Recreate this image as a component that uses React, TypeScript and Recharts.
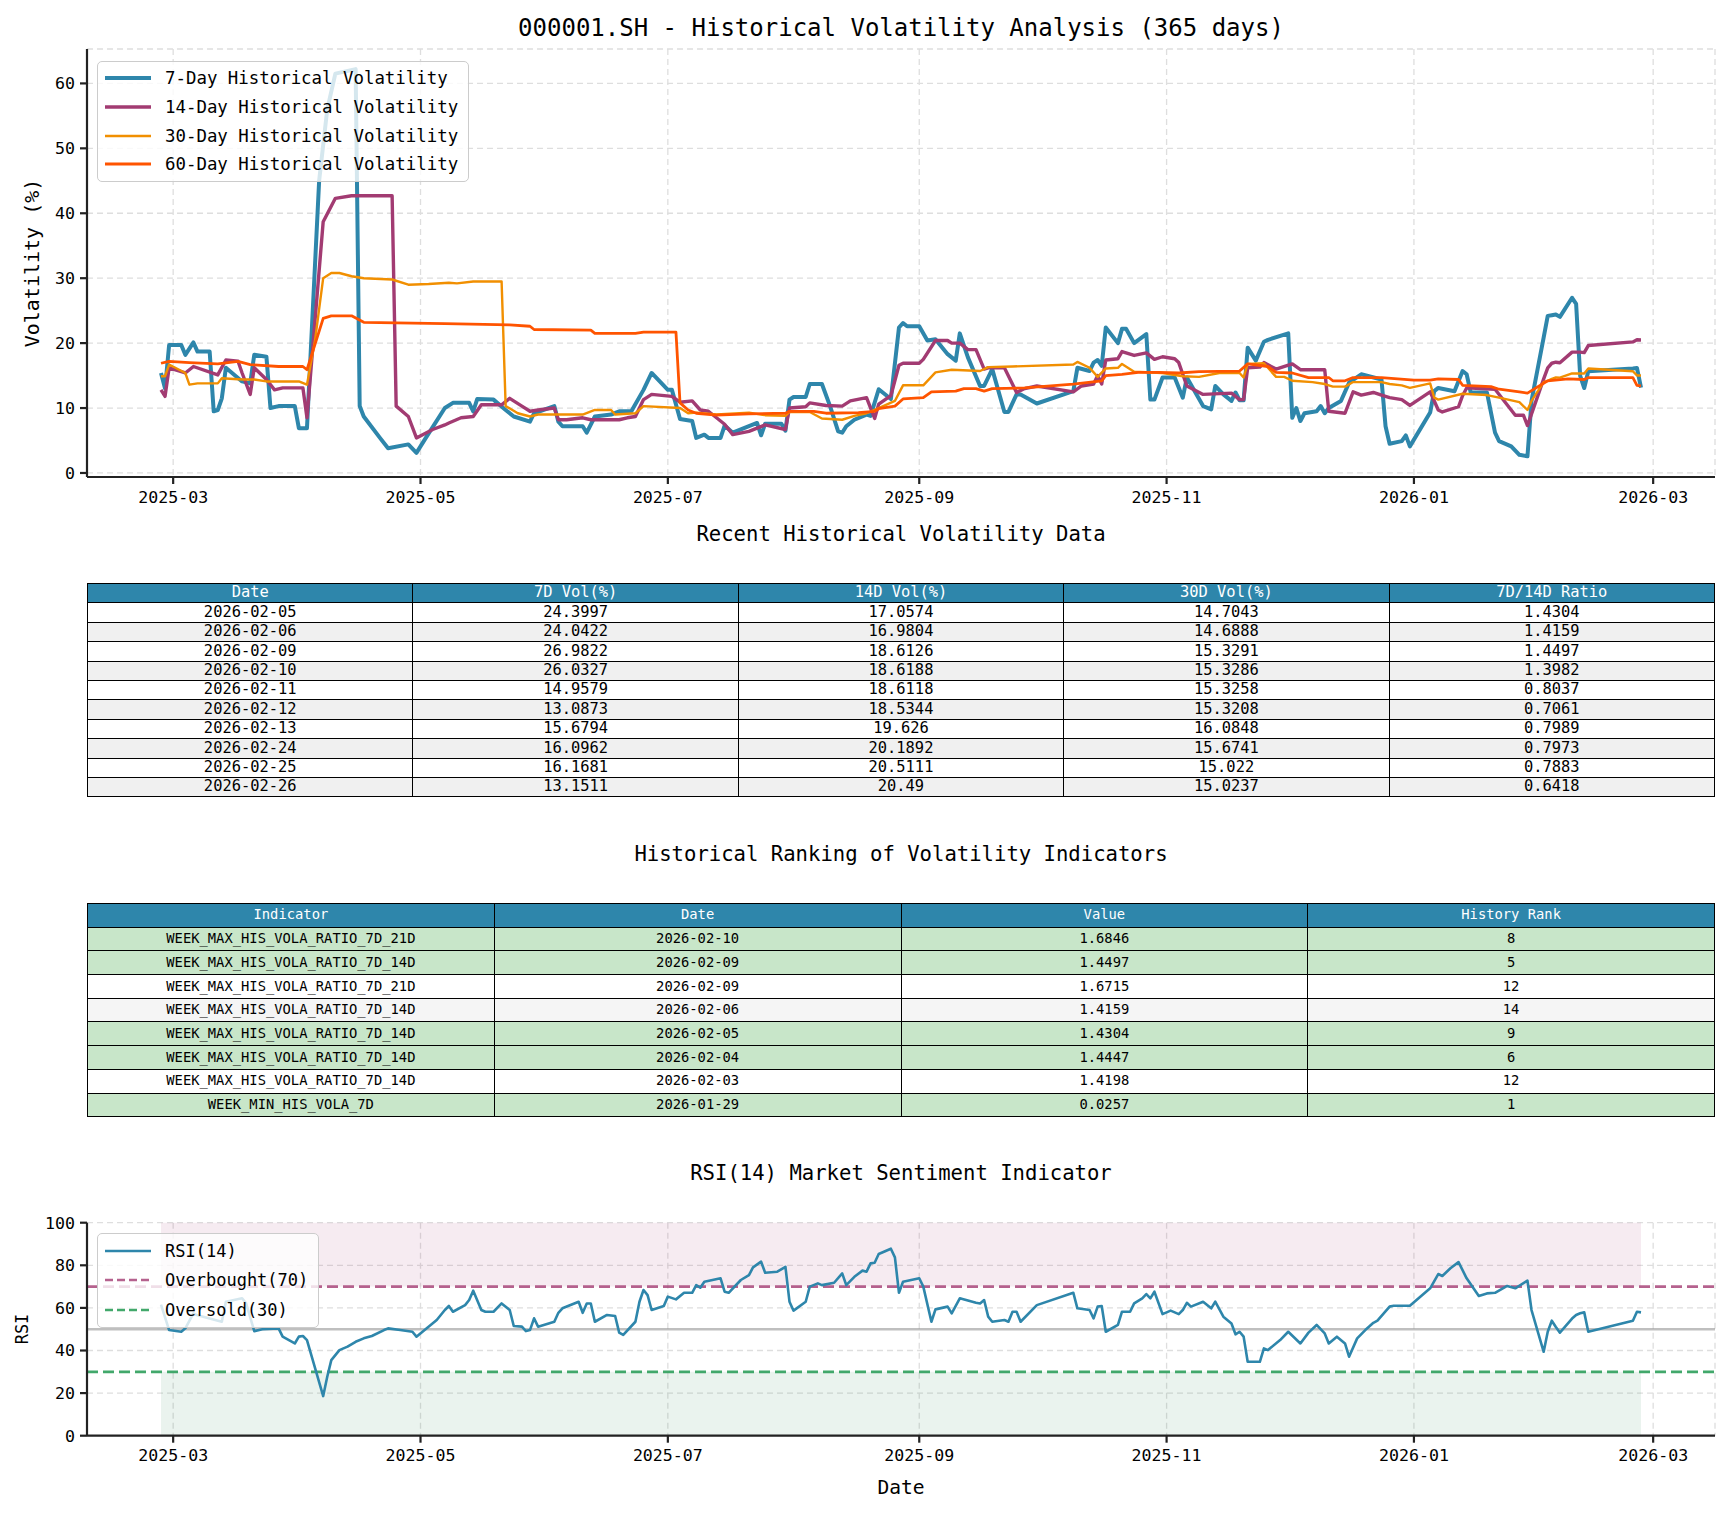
import React from 'react';
import { LineChart, Line, XAxis, YAxis, CartesianGrid, Legend, ReferenceArea, ReferenceLine } from 'recharts';

const FONT = '"DejaVu Sans Mono", "Liberation Mono", monospace';

const firstDay = '2025-02-26';
const lastDay = '2026-02-26';
const monthTicks = ['2025-03-01', '2025-05-01', '2025-07-01', '2025-09-01', '2025-11-01', '2026-01-01', '2026-03-01'];
const volTicks = [0, 10, 20, 30, 40, 50, 60];
const rsiTicks = [0, 20, 40, 60, 80, 100];

// values, trading-day samples
const vol7d: [string, number][] = [
  ['2025-02-26', 15.4], ['2025-02-27', 13.0], ['2025-02-28', 19.7], ['2025-03-03', 19.7], ['2025-03-04', 18.2], ['2025-03-06', 20.1],
  ['2025-03-07', 18.7], ['2025-03-10', 18.7], ['2025-03-11', 9.5], ['2025-03-12', 9.7], ['2025-03-13', 11.5], ['2025-03-14', 16.2],
  ['2025-03-18', 14.1], ['2025-03-20', 13.8], ['2025-03-21', 18.2], ['2025-03-24', 17.9], ['2025-03-25', 10.0], ['2025-03-27', 10.3],
  ['2025-03-31', 10.3], ['2025-04-01', 6.9], ['2025-04-03', 6.9], ['2025-04-06', 45.0], ['2025-04-08', 56.0], ['2025-04-10', 61.5],
  ['2025-04-15', 62.2], ['2025-04-16', 10.3], ['2025-04-17', 8.7], ['2025-04-21', 5.4], ['2025-04-23', 3.8], ['2025-04-28', 4.4],
  ['2025-04-30', 3.1], ['2025-05-02', 5.1], ['2025-05-07', 10.0], ['2025-05-09', 10.8], ['2025-05-13', 10.8], ['2025-05-14', 9.5],
  ['2025-05-15', 11.4], ['2025-05-19', 11.3], ['2025-05-22', 9.7], ['2025-05-24', 8.7], ['2025-05-28', 7.9], ['2025-05-29', 9.2],
  ['2025-06-03', 10.3], ['2025-06-04', 7.9], ['2025-06-05', 7.2], ['2025-06-10', 7.2], ['2025-06-11', 6.2], ['2025-06-13', 8.7],
  ['2025-06-17', 9.0], ['2025-06-19', 9.5], ['2025-06-22', 9.5], ['2025-06-25', 12.8], ['2025-06-27', 15.4], ['2025-07-01', 12.8],
  ['2025-07-02', 12.8], ['2025-07-04', 8.3], ['2025-07-07', 8.0], ['2025-07-08', 5.4], ['2025-07-10', 5.9], ['2025-07-11', 5.4],
  ['2025-07-14', 5.4], ['2025-07-15', 7.3], ['2025-07-17', 6.2], ['2025-07-23', 7.7], ['2025-07-24', 5.8], ['2025-07-25', 7.6],
  ['2025-07-29', 7.6], ['2025-07-30', 6.5], ['2025-07-31', 11.3], ['2025-08-01', 11.7], ['2025-08-04', 11.7], ['2025-08-05', 13.7],
  ['2025-08-08', 13.7], ['2025-08-10', 10.3], ['2025-08-12', 6.4], ['2025-08-13', 6.2], ['2025-08-14', 7.2], ['2025-08-16', 8.2],
  ['2025-08-19', 9.0], ['2025-08-20', 8.8], ['2025-08-22', 12.9], ['2025-08-25', 11.4], ['2025-08-27', 22.4], ['2025-08-28', 23.1],
  ['2025-08-29', 22.6], ['2025-09-01', 22.6], ['2025-09-03', 20.4], ['2025-09-05', 20.6], ['2025-09-08', 18.3], ['2025-09-10', 17.3],
  ['2025-09-11', 21.5], ['2025-09-13', 17.8], ['2025-09-16', 13.4], ['2025-09-17', 13.4], ['2025-09-19', 16.0], ['2025-09-22', 9.4],
  ['2025-09-23', 9.4], ['2025-09-25', 12.1], ['2025-09-26', 12.1], ['2025-09-30', 10.7], ['2025-10-09', 12.6], ['2025-10-10', 16.2],
  ['2025-10-13', 15.7], ['2025-10-14', 17.0], ['2025-10-15', 17.4], ['2025-10-16', 16.5], ['2025-10-17', 22.4], ['2025-10-20', 20.0],
  ['2025-10-21', 22.2], ['2025-10-22', 22.2], ['2025-10-24', 20.0], ['2025-10-27', 21.4], ['2025-10-28', 11.3], ['2025-10-29', 11.3],
  ['2025-10-31', 14.7], ['2025-11-03', 14.7], ['2025-11-05', 11.6], ['2025-11-06', 14.7], ['2025-11-10', 10.3], ['2025-11-12', 9.8],
  ['2025-11-13', 13.4], ['2025-11-15', 12.1], ['2025-11-17', 11.1], ['2025-11-18', 12.4], ['2025-11-19', 11.2], ['2025-11-20', 11.2],
  ['2025-11-21', 19.3], ['2025-11-23', 17.3], ['2025-11-25', 20.2], ['2025-11-26', 20.5], ['2025-12-01', 21.5], ['2025-12-02', 8.5],
  ['2025-12-03', 10.0], ['2025-12-04', 8.0], ['2025-12-05', 9.2], ['2025-12-08', 9.5], ['2025-12-09', 10.3], ['2025-12-10', 9.2],
  ['2025-12-11', 10.0], ['2025-12-14', 11.1], ['2025-12-16', 13.9], ['2025-12-19', 15.2], ['2025-12-24', 14.4], ['2025-12-25', 7.2],
  ['2025-12-26', 4.5], ['2025-12-29', 4.9], ['2025-12-30', 5.8], ['2025-12-31', 4.1], ['2026-01-05', 9.3], ['2026-01-06', 12.6],
  ['2026-01-07', 13.1], ['2026-01-11', 12.6], ['2026-01-13', 15.7], ['2026-01-14', 15.2], ['2026-01-15', 12.4], ['2026-01-19', 12.4],
  ['2026-01-21', 6.2], ['2026-01-22', 4.9], ['2026-01-25', 4.1], ['2026-01-27', 2.8], ['2026-01-29', 2.57], ['2026-01-30', 11.1],
  ['2026-02-02', 20.9], ['2026-02-03', 24.2], ['2026-02-04', 24.3], ['2026-02-05', 24.3997], ['2026-02-06', 24.0422], ['2026-02-09', 26.9822],
  ['2026-02-10', 26.0327], ['2026-02-11', 14.9579], ['2026-02-12', 13.0873], ['2026-02-13', 15.6794], ['2026-02-24', 16.0962],
  ['2026-02-25', 16.1681], ['2026-02-26', 13.1511],
];

const vol14d: [string, number][] = [
  ['2025-02-26', 12.8], ['2025-02-27', 11.8], ['2025-02-28', 16.2], ['2025-03-04', 15.4], ['2025-03-06', 16.4], ['2025-03-12', 15.1],
  ['2025-03-14', 17.4], ['2025-03-17', 17.2], ['2025-03-18', 15.4], ['2025-03-20', 12.1], ['2025-03-21', 16.2], ['2025-03-24', 14.4],
  ['2025-03-26', 12.8], ['2025-03-28', 13.1], ['2025-04-02', 13.1], ['2025-04-03', 8.5], ['2025-04-07', 38.7], ['2025-04-10', 42.3],
  ['2025-04-14', 42.7], ['2025-04-24', 42.7], ['2025-04-25', 10.3], ['2025-04-28', 8.7], ['2025-04-30', 5.4], ['2025-05-04', 6.7],
  ['2025-05-07', 7.4], ['2025-05-08', 7.7], ['2025-05-11', 8.5], ['2025-05-14', 8.7], ['2025-05-16', 10.5], ['2025-05-21', 10.5],
  ['2025-05-23', 11.5], ['2025-05-26', 10.3], ['2025-05-28', 9.5], ['2025-05-30', 9.7], ['2025-06-03', 10.0], ['2025-06-04', 8.2],
  ['2025-06-06', 8.2], ['2025-06-10', 8.5], ['2025-06-12', 8.2], ['2025-06-19', 8.2], ['2025-06-21', 8.5], ['2025-06-23', 8.7],
  ['2025-06-25', 11.3], ['2025-06-27', 12.1], ['2025-07-02', 11.8], ['2025-07-04', 10.9], ['2025-07-07', 11.1], ['2025-07-09', 9.7],
  ['2025-07-11', 9.5], ['2025-07-15', 7.5], ['2025-07-17', 5.9], ['2025-07-21', 6.4], ['2025-07-25', 7.4], ['2025-07-30', 6.7],
  ['2025-07-31', 10.0], ['2025-08-04', 10.2], ['2025-08-05', 10.8], ['2025-08-09', 10.4], ['2025-08-13', 10.3], ['2025-08-15', 11.1],
  ['2025-08-19', 11.6], ['2025-08-21', 8.4], ['2025-08-22', 10.6], ['2025-08-25', 11.9], ['2025-08-27', 16.6], ['2025-08-28', 16.9],
  ['2025-09-01', 16.9], ['2025-09-02', 17.5], ['2025-09-05', 20.4], ['2025-09-08', 20.4], ['2025-09-09', 20.0], ['2025-09-11', 20.0],
  ['2025-09-13', 19.0], ['2025-09-15', 19.0], ['2025-09-17', 16.0], ['2025-09-18', 16.2], ['2025-09-22', 16.2], ['2025-09-25', 12.4],
  ['2025-09-27', 13.0], ['2025-09-30', 13.4], ['2025-10-09', 12.5], ['2025-10-11', 13.4], ['2025-10-14', 13.7], ['2025-10-15', 15.0],
  ['2025-10-16', 13.7], ['2025-10-17', 17.4], ['2025-10-20', 17.6], ['2025-10-21', 18.7], ['2025-10-24', 18.1], ['2025-10-27', 18.5],
  ['2025-10-29', 17.5], ['2025-10-31', 17.9], ['2025-11-03', 17.6], ['2025-11-04', 17.0], ['2025-11-06', 13.4], ['2025-11-10', 12.1],
  ['2025-11-17', 12.3], ['2025-11-19', 11.3], ['2025-11-20', 11.3], ['2025-11-21', 16.2], ['2025-11-24', 16.3], ['2025-11-25', 17.0],
  ['2025-11-28', 16.0], ['2025-12-02', 16.8], ['2025-12-04', 15.9], ['2025-12-10', 15.9], ['2025-12-11', 9.5], ['2025-12-15', 9.2],
  ['2025-12-17', 12.5], ['2025-12-19', 12.0], ['2025-12-22', 12.4], ['2025-12-24', 12.0], ['2025-12-26', 11.6], ['2025-12-29', 11.3],
  ['2025-12-31', 10.4], ['2026-01-05', 12.5], ['2026-01-07', 9.7], ['2026-01-08', 9.4], ['2026-01-12', 10.2], ['2026-01-13', 11.9],
  ['2026-01-14', 13.1], ['2026-01-21', 12.9], ['2026-01-26', 8.9], ['2026-01-28', 8.9], ['2026-01-29', 7.3], ['2026-02-02', 14.5],
  ['2026-02-03', 16.2], ['2026-02-04', 16.9], ['2026-02-05', 17.0574], ['2026-02-06', 16.9804], ['2026-02-09', 18.6126],
  ['2026-02-10', 18.6188], ['2026-02-11', 18.6118], ['2026-02-12', 18.5344], ['2026-02-13', 19.626], ['2026-02-24', 20.1892],
  ['2026-02-25', 20.5111], ['2026-02-26', 20.49],
];

const vol30d: [string, number][] = [
  ['2025-02-26', 14.9], ['2025-02-27', 14.9], ['2025-02-28', 16.7], ['2025-03-04', 15.4], ['2025-03-05', 13.6], ['2025-03-07', 13.8],
  ['2025-03-12', 13.8], ['2025-03-13', 14.6], ['2025-03-18', 14.4], ['2025-03-21', 14.4], ['2025-03-24', 14.1], ['2025-04-01', 14.1],
  ['2025-04-03', 13.6], ['2025-04-05', 20.5], ['2025-04-07', 30.0], ['2025-04-09', 30.8], ['2025-04-11', 30.8], ['2025-04-14', 30.3],
  ['2025-04-17', 30.0], ['2025-04-24', 29.8], ['2025-04-28', 29.0], ['2025-05-03', 29.1], ['2025-05-08', 29.3], ['2025-05-10', 29.2],
  ['2025-05-14', 29.5], ['2025-05-21', 29.5], ['2025-05-22', 10.3], ['2025-05-25', 9.2], ['2025-05-28', 8.7], ['2025-05-30', 9.0],
  ['2025-06-10', 9.0], ['2025-06-13', 9.7], ['2025-06-17', 9.7], ['2025-06-18', 9.0], ['2025-06-23', 9.2], ['2025-06-25', 10.3],
  ['2025-07-04', 10.0], ['2025-07-06', 9.2], ['2025-07-08', 9.3], ['2025-07-13', 9.0], ['2025-07-21', 9.3], ['2025-07-25', 8.9],
  ['2025-07-30', 8.8], ['2025-07-31', 9.4], ['2025-08-05', 9.4], ['2025-08-08', 8.4], ['2025-08-13', 8.2], ['2025-08-16', 8.8],
  ['2025-08-19', 9.2], ['2025-08-22', 10.0], ['2025-08-26', 11.1], ['2025-08-28', 13.5], ['2025-09-02', 13.5], ['2025-09-05', 15.5],
  ['2025-09-09', 15.9], ['2025-09-16', 15.7], ['2025-09-18', 16.3], ['2025-09-24', 16.4], ['2025-10-09', 16.7], ['2025-10-10', 17.1],
  ['2025-10-13', 16.2], ['2025-10-15', 14.8], ['2025-10-17', 16.1], ['2025-10-20', 16.2], ['2025-10-21', 16.8], ['2025-10-24', 15.6],
  ['2025-10-31', 15.4], ['2025-11-05', 14.9], ['2025-11-09', 14.8], ['2025-11-14', 15.4], ['2025-11-19', 15.4], ['2025-11-20', 14.7],
  ['2025-11-21', 16.8], ['2025-11-25', 16.9], ['2025-11-28', 14.8], ['2025-11-30', 14.8], ['2025-12-02', 14.2], ['2025-12-07', 14.0],
  ['2025-12-10', 13.7], ['2025-12-12', 13.3], ['2025-12-15', 13.3], ['2025-12-17', 14.0], ['2025-12-24', 14.0], ['2025-12-26', 13.7],
  ['2025-12-29', 13.5], ['2025-12-31', 13.1], ['2026-01-05', 13.8], ['2026-01-06', 11.6], ['2026-01-07', 11.3], ['2026-01-13', 12.2],
  ['2026-01-19', 12.0], ['2026-01-22', 11.6], ['2026-01-27', 10.9], ['2026-01-29', 9.7], ['2026-01-30', 11.1], ['2026-02-02', 14.0],
  ['2026-02-03', 14.2], ['2026-02-04', 14.5], ['2026-02-05', 14.7043], ['2026-02-06', 14.6888], ['2026-02-09', 15.3291],
  ['2026-02-10', 15.3286], ['2026-02-11', 15.3258], ['2026-02-12', 15.3208], ['2026-02-13', 16.0848], ['2026-02-24', 15.6741],
  ['2026-02-25', 15.022], ['2026-02-26', 15.0237],
];

const vol60d: [string, number][] = [
  ['2025-02-26', 16.9], ['2025-02-28', 17.2], ['2025-03-05', 17.0], ['2025-03-12', 16.8], ['2025-03-17', 17.2], ['2025-03-20', 16.7],
  ['2025-03-27', 16.4], ['2025-04-02', 16.4], ['2025-04-03', 15.9], ['2025-04-07', 23.8], ['2025-04-09', 24.2], ['2025-04-14', 24.2],
  ['2025-04-17', 23.2], ['2025-05-07', 23.0], ['2025-05-23', 22.8], ['2025-05-28', 22.6], ['2025-05-29', 22.1], ['2025-06-12', 22.0],
  ['2025-06-13', 21.5], ['2025-06-23', 21.5], ['2025-06-25', 21.7], ['2025-07-03', 21.7], ['2025-07-04', 10.8], ['2025-07-06', 9.7],
  ['2025-07-08', 9.2], ['2025-07-13', 8.9], ['2025-07-21', 9.1], ['2025-07-30', 9.2], ['2025-07-31', 9.5], ['2025-08-06', 9.5],
  ['2025-08-09', 9.2], ['2025-08-17', 9.3], ['2025-08-21', 9.5], ['2025-08-22', 9.9], ['2025-08-26', 10.3], ['2025-08-28', 11.4],
  ['2025-09-02', 11.6], ['2025-09-04', 12.5], ['2025-09-10', 12.6], ['2025-09-12', 13.0], ['2025-09-15', 13.0], ['2025-09-17', 12.6],
  ['2025-09-19', 13.0], ['2025-09-27', 13.1], ['2025-10-09', 13.7], ['2025-10-16', 14.2], ['2025-10-17', 15.0], ['2025-10-21', 15.2],
  ['2025-10-25', 15.5], ['2025-10-30', 15.5], ['2025-11-04', 15.4], ['2025-11-09', 15.6], ['2025-11-19', 15.7], ['2025-11-21', 16.8],
  ['2025-11-26', 16.4], ['2025-11-28', 15.5], ['2025-12-02', 15.4], ['2025-12-06', 14.7], ['2025-12-11', 14.7], ['2025-12-12', 14.2],
  ['2025-12-15', 14.2], ['2025-12-17', 14.7], ['2025-12-24', 14.7], ['2026-01-01', 14.3], ['2026-01-05', 14.3], ['2026-01-07', 14.5],
  ['2026-01-12', 14.4], ['2026-01-13', 13.5], ['2026-01-20', 13.3], ['2026-01-22', 12.9], ['2026-01-27', 12.5], ['2026-01-29', 12.3],
  ['2026-02-03', 14.2], ['2026-02-08', 14.5], ['2026-02-12', 14.4], ['2026-02-13', 14.7], ['2026-02-24', 14.7], ['2026-02-25', 13.5],
  ['2026-02-26', 13.4],
];

const rsi14: [string, number][] = [
  ['2025-02-26', 61.5], ['2025-02-28', 49.6], ['2025-03-03', 48.8], ['2025-03-04', 50.4], ['2025-03-06', 57.4], ['2025-03-07', 56.5],
  ['2025-03-10', 55.0], ['2025-03-13', 53.5], ['2025-03-14', 62.9], ['2025-03-18', 64.5], ['2025-03-19', 62.1], ['2025-03-21', 49.1],
  ['2025-03-23', 50.0], ['2025-03-27', 50.4], ['2025-03-28', 46.5], ['2025-03-31', 43.3], ['2025-04-01', 46.5], ['2025-04-02', 46.8],
  ['2025-04-03', 44.9], ['2025-04-07', 18.6], ['2025-04-08', 27.7], ['2025-04-09', 35.5], ['2025-04-11', 40.2], ['2025-04-13', 41.8],
  ['2025-04-15', 44.1], ['2025-04-17', 45.7], ['2025-04-19', 46.8], ['2025-04-22', 49.6], ['2025-04-23', 50.4], ['2025-04-26', 49.6],
  ['2025-04-29', 48.8], ['2025-04-30', 46.5], ['2025-05-05', 54.3], ['2025-05-07', 59.0], ['2025-05-08', 60.9], ['2025-05-09', 58.2],
  ['2025-05-12', 61.3], ['2025-05-13', 63.7], ['2025-05-14', 68.1], ['2025-05-16', 59.0], ['2025-05-17', 58.2], ['2025-05-19', 58.2],
  ['2025-05-21', 62.1], ['2025-05-23', 59.0], ['2025-05-24', 51.5], ['2025-05-26', 51.2], ['2025-05-27', 49.1], ['2025-05-28', 49.6],
  ['2025-05-29', 55.1], ['2025-05-30', 51.2], ['2025-06-03', 53.5], ['2025-06-04', 57.7], ['2025-06-05', 59.8], ['2025-06-09', 62.9],
  ['2025-06-10', 57.7], ['2025-06-11', 62.1], ['2025-06-12', 62.1], ['2025-06-13', 53.5], ['2025-06-16', 56.7], ['2025-06-18', 56.2],
  ['2025-06-19', 48.4], ['2025-06-20', 47.3], ['2025-06-23', 53.5], ['2025-06-24', 62.9], ['2025-06-25', 68.4], ['2025-06-26', 66.0],
  ['2025-06-27', 59.0], ['2025-06-30', 60.9], ['2025-07-01', 65.3], ['2025-07-03', 64.0], ['2025-07-05', 67.1], ['2025-07-07', 67.1],
  ['2025-07-08', 70.7], ['2025-07-09', 69.5], ['2025-07-10', 72.3], ['2025-07-12', 73.1], ['2025-07-14', 73.9], ['2025-07-15', 67.6],
  ['2025-07-16', 67.1], ['2025-07-19', 73.1], ['2025-07-21', 75.4], ['2025-07-22', 79.0], ['2025-07-24', 81.7], ['2025-07-25', 76.5],
  ['2025-07-28', 77.0], ['2025-07-30', 79.3], ['2025-07-31', 62.9], ['2025-08-01', 58.7], ['2025-08-04', 62.9], ['2025-08-05', 70.0],
  ['2025-08-07', 71.5], ['2025-08-08', 70.7], ['2025-08-11', 71.8], ['2025-08-13', 76.2], ['2025-08-14', 70.7], ['2025-08-16', 74.6],
  ['2025-08-18', 77.5], ['2025-08-19', 77.0], ['2025-08-20', 80.9], ['2025-08-21', 81.2], ['2025-08-22', 85.3], ['2025-08-25', 87.8],
  ['2025-08-26', 83.7], ['2025-08-27', 67.1], ['2025-08-28', 72.3], ['2025-09-01', 73.9], ['2025-09-02', 70.0], ['2025-09-04', 53.5],
  ['2025-09-05', 59.3], ['2025-09-08', 60.6], ['2025-09-09', 57.4], ['2025-09-11', 64.5], ['2025-09-15', 62.4], ['2025-09-16', 62.1],
  ['2025-09-17', 63.7], ['2025-09-18', 55.9], ['2025-09-19', 53.5], ['2025-09-22', 54.3], ['2025-09-23', 53.5], ['2025-09-24', 58.2],
  ['2025-09-25', 58.2], ['2025-09-26', 53.5], ['2025-09-30', 61.3], ['2025-10-09', 67.1], ['2025-10-10', 59.8], ['2025-10-13', 59.0],
  ['2025-10-14', 55.1], ['2025-10-15', 60.6], ['2025-10-16', 60.9], ['2025-10-17', 48.8], ['2025-10-20', 52.0], ['2025-10-21', 58.2],
  ['2025-10-23', 58.2], ['2025-10-24', 62.1], ['2025-10-26', 64.5], ['2025-10-27', 66.5], ['2025-10-28', 64.5], ['2025-10-29', 67.6],
  ['2025-10-31', 57.1], ['2025-11-02', 58.7], ['2025-11-04', 57.1], ['2025-11-05', 59.0], ['2025-11-06', 62.4], ['2025-11-07', 60.6],
  ['2025-11-10', 62.9], ['2025-11-12', 59.8], ['2025-11-13', 62.9], ['2025-11-15', 55.9], ['2025-11-17', 52.7], ['2025-11-18', 47.6],
  ['2025-11-19', 48.8], ['2025-11-20', 46.5], ['2025-11-21', 34.7], ['2025-11-24', 34.7], ['2025-11-25', 41.0], ['2025-11-26', 40.2],
  ['2025-11-29', 44.9], ['2025-12-01', 48.8], ['2025-12-04', 43.3], ['2025-12-06', 48.4], ['2025-12-08', 52.0], ['2025-12-10', 48.0],
  ['2025-12-11', 43.3], ['2025-12-13', 46.5], ['2025-12-15', 43.3], ['2025-12-16', 37.1], ['2025-12-18', 45.7], ['2025-12-20', 49.6],
  ['2025-12-22', 53.0], ['2025-12-23', 54.0], ['2025-12-26', 60.6], ['2025-12-27', 61.0], ['2025-12-31', 61.0], ['2026-01-05', 69.2],
  ['2026-01-07', 75.9], ['2026-01-08', 75.0], ['2026-01-10', 78.6], ['2026-01-12', 81.5], ['2026-01-14', 73.9], ['2026-01-17', 65.6],
  ['2026-01-19', 66.8], ['2026-01-21', 67.1], ['2026-01-24', 70.3], ['2026-01-26', 69.2], ['2026-01-29', 72.8], ['2026-01-30', 59.0],
  ['2026-02-02', 39.4], ['2026-02-03', 48.8], ['2026-02-04', 54.0], ['2026-02-05', 51.0], ['2026-02-06', 48.4], ['2026-02-09', 55.0],
  ['2026-02-10', 56.7], ['2026-02-11', 57.5], ['2026-02-12', 57.9], ['2026-02-13', 48.8], ['2026-02-24', 54.0], ['2026-02-25', 58.2],
  ['2026-02-26', 57.9],
];

// recent data table
const recentHeaders = ['Date', '7D Vol(%)', '14D Vol(%)', '30D Vol(%)', '7D/14D Ratio'];
const recentDates = ['2026-02-05', '2026-02-06', '2026-02-09', '2026-02-10', '2026-02-11', '2026-02-12', '2026-02-13', '2026-02-24', '2026-02-25', '2026-02-26'];
const recent7d = [24.3997, 24.0422, 26.9822, 26.0327, 14.9579, 13.0873, 15.6794, 16.0962, 16.1681, 13.1511];
const recent14d = [17.0574, 16.9804, 18.6126, 18.6188, 18.6118, 18.5344, 19.626, 20.1892, 20.5111, 20.49];
const recent30d = [14.7043, 14.6888, 15.3291, 15.3286, 15.3258, 15.3208, 16.0848, 15.6741, 15.022, 15.0237];
const recentRatio = [1.4304, 1.4159, 1.4497, 1.3982, 0.8037, 0.7061, 0.7989, 0.7973, 0.7883, 0.6418];

// ranking table
const rankHeaders = ['Indicator', 'Date', 'Value', 'History Rank'];
const rankIndicators = [
  'WEEK_MAX_HIS_VOLA_RATIO_7D_21D', 'WEEK_MAX_HIS_VOLA_RATIO_7D_14D', 'WEEK_MAX_HIS_VOLA_RATIO_7D_21D', 'WEEK_MAX_HIS_VOLA_RATIO_7D_14D',
  'WEEK_MAX_HIS_VOLA_RATIO_7D_14D', 'WEEK_MAX_HIS_VOLA_RATIO_7D_14D', 'WEEK_MAX_HIS_VOLA_RATIO_7D_14D', 'WEEK_MIN_HIS_VOLA_7D',
];
const rankDates = ['2026-02-10', '2026-02-09', '2026-02-09', '2026-02-06', '2026-02-05', '2026-02-04', '2026-02-03', '2026-01-29'];
const rankValues = [1.6846, 1.4497, 1.6715, 1.4159, 1.4304, 1.4447, 1.4198, 0.0257];
const rankPositions = [8, 5, 12, 14, 9, 6, 12, 1];

const DAY = 86400000;
const xDomain = [Date.parse(firstDay) - 18.25 * DAY, Date.parse(lastDay) + 18.25 * DAY];
const xTicks = monthTicks.map((d) => Date.parse(d));
const toPoints = (rows: [string, number][]) => rows.map(([d, v]) => ({ t: Date.parse(d), v }));
const fmtMonth = (t: number) => {
  const d = new Date(t);
  return `${d.getUTCFullYear()}-${String(d.getUTCMonth() + 1).padStart(2, '0')}`;
};

const volSeries = [
  { name: '7-Day Historical Volatility', rows: vol7d, color: '#2E86AB', width: 4 },
  { name: '14-Day Historical Volatility', rows: vol14d, color: '#A23B72', width: 3.4 },
  { name: '30-Day Historical Volatility', rows: vol30d, color: '#F18F01', width: 2.4 },
  { name: '60-Day Historical Volatility', rows: vol60d, color: '#FF5400', width: 2.8 },
];

const rsiLegend = [
  { name: 'RSI(14)', color: '#2E86AB', width: 2.6 },
  { name: 'Overbought(70)', color: '#A23B72', width: 2.6, dash: '8 4', opacity: 0.8 },
  { name: 'Oversold(30)', color: '#2E9E5B', width: 2.6, dash: '8 4', opacity: 0.9 },
];

const tickStyle = { fill: '#000', fontSize: 16.6, fontFamily: FONT };

function LegendBox({ items, rowH, fontSize }: any) {
  return (
    <div style={{
      background: 'rgba(255,255,255,0.8)', border: '1.5px solid #cccccc', borderRadius: 5,
      padding: '2px 10px 2px 7px', fontFamily: FONT, fontSize, color: '#000',
    }}>
      {items.map((it: any) => (
        <div key={it.name} style={{ display: 'flex', alignItems: 'center', height: rowH }}>
          <svg width={46} height={8} style={{ marginRight: 14, flex: 'none' }}>
            <line x1={0} x2={46} y1={4} y2={4} stroke={it.color} strokeWidth={it.width}
              strokeOpacity={it.opacity ?? 1} strokeDasharray={it.dash} />
          </svg>
          <span style={{ whiteSpace: 'nowrap' }}>{it.name}</span>
        </div>
      ))}
    </div>
  );
}

const titleStyle = (top: number, size: number): React.CSSProperties => ({
  position: 'absolute', left: 0, width: 1802, top, transform: 'translateY(-50%)',
  textAlign: 'center', fontFamily: FONT, fontSize: size, color: '#000', whiteSpace: 'nowrap',
});

function DataTable({ top, headers, rows, rowH, fontSize, rowColor }: any) {
  const cell: React.CSSProperties = {
    border: '1.5px solid #000', padding: 0, textAlign: 'center', fontFamily: FONT, fontSize,
    lineHeight: `${rowH - 2}px`, overflow: 'hidden', whiteSpace: 'nowrap',
  };
  return (
    <table style={{ position: 'absolute', left: 87, top, width: 1628, borderCollapse: 'collapse', tableLayout: 'fixed' }}>
      <tbody>
        <tr style={{ height: rowH }}>
          {headers.map((h: string) => (
            <td key={h} style={{ ...cell, background: '#2E86AB', color: '#fff' }}>{h}</td>
          ))}
        </tr>
        {rows.map((r: (string | number)[], i: number) => (
          <tr key={i} style={{ height: rowH }}>
            {r.map((v, j) => (
              <td key={j} style={{ ...cell, background: rowColor(i), color: '#000' }}>{String(v)}</td>
            ))}
          </tr>
        ))}
      </tbody>
    </table>
  );
}

export default function App() {
  const recentRows = recentDates.map((d, i) => [d, recent7d[i], recent14d[i], recent30d[i], recentRatio[i]]);
  const rankRows = rankIndicators.map((n, i) => [n, rankDates[i], rankValues[i], rankPositions[i]]);
  const rsiData = toPoints(rsi14);

  return (
    <div style={{ position: 'absolute', left: 0, top: 0, width: 1729, height: 1513, background: '#fff', overflow: 'hidden' }}>
      <div style={titleStyle(28, 24)}>000001.SH - Historical Volatility Analysis (365 days)</div>

      <div style={{ position: 'absolute', left: 0, top: 0 }}>
        <LineChart width={1729} height={530} margin={{ top: 49, right: 14, bottom: 13, left: 0 }}>
          <CartesianGrid stroke="#dedede" strokeDasharray="6 4" strokeWidth={1.3} />
          <XAxis type="number" dataKey="t" domain={xDomain} ticks={xTicks} tickFormatter={fmtMonth}
            allowDataOverflow height={40} tick={tickStyle} stroke="#222" strokeWidth={2.2} tickSize={7} tickMargin={7} />
          <YAxis type="number" domain={[-0.62, 65.3]} ticks={volTicks} allowDataOverflow width={87}
            tick={tickStyle} stroke="#222" strokeWidth={2.2} tickSize={7} tickMargin={5} />
          {volSeries.map((s) => (
            <Line key={s.name} data={toPoints(s.rows)} dataKey="v" type="linear" stroke={s.color}
              strokeWidth={s.width} dot={false} activeDot={false} isAnimationActive={false} strokeLinejoin="round" />
          ))}
          <Legend layout="vertical" align="center" verticalAlign="middle"
            wrapperStyle={{ left: 97, top: 61, width: 'auto', height: 'auto' }}
            content={() => <LegendBox items={volSeries} rowH={28.7} fontSize={17.4} />} />
        </LineChart>
      </div>
      <div style={{
        position: 'absolute', left: 32, top: 263, transform: 'translate(-50%, -50%) rotate(-90deg)',
        fontFamily: FONT, fontSize: 20, whiteSpace: 'nowrap', color: '#000',
      }}>Volatility (%)</div>

      <div style={titleStyle(534, 20.6)}>Recent Historical Volatility Data</div>
      <DataTable top={583} headers={recentHeaders} rows={recentRows} rowH={19.4} fontSize={15.4}
        rowColor={(i: number) => (i % 2 === 1 ? '#f0f0f0' : '#ffffff')} />

      <div style={titleStyle(854, 20.6)}>Historical Ranking of Volatility Indicators</div>
      <DataTable top={903} headers={rankHeaders} rows={rankRows} rowH={23.7} fontSize={13.8}
        rowColor={(i: number) => (rankPositions[i] <= 10 ? '#c8e6c9' : i % 2 === 1 ? '#f5f5f5' : '#ffffff')} />

      <div style={titleStyle(1173, 20.6)}>RSI(14) Market Sentiment Indicator</div>
      <div style={{ position: 'absolute', left: 0, top: 1170 }}>
        <LineChart width={1729} height={343} margin={{ top: 52.7, right: 14, bottom: 37.3, left: 0 }}>
          <CartesianGrid stroke="#dedede" strokeDasharray="6 4" strokeWidth={1.3} />
          <XAxis type="number" dataKey="t" domain={xDomain} ticks={xTicks} tickFormatter={fmtMonth}
            allowDataOverflow height={40} tick={tickStyle} stroke="#222" strokeWidth={2.2} tickSize={7} tickMargin={7} />
          <YAxis type="number" domain={[0, 100]} ticks={rsiTicks} allowDataOverflow width={87}
            tick={tickStyle} stroke="#222" strokeWidth={2.2} tickSize={7} tickMargin={5} />
          <ReferenceArea x1={Date.parse(firstDay)} x2={Date.parse(lastDay)} y1={70} y2={100}
            fill="#A23B72" fillOpacity={0.1} stroke="none" />
          <ReferenceArea x1={Date.parse(firstDay)} x2={Date.parse(lastDay)} y1={0} y2={30}
            fill="#2E8B57" fillOpacity={0.1} stroke="none" />
          <ReferenceLine y={70} stroke="#A23B72" strokeOpacity={0.8} strokeWidth={2.8} strokeDasharray="11 5" />
          <ReferenceLine y={30} stroke="#2E9E5B" strokeOpacity={0.9} strokeWidth={2.8} strokeDasharray="11 5" />
          <ReferenceLine y={50} stroke="#808080" strokeOpacity={0.5} strokeWidth={2.5} />
          <Line data={rsiData} dataKey="v" type="linear" stroke="#2E86AB" strokeWidth={2.6}
            dot={false} activeDot={false} isAnimationActive={false} strokeLinejoin="round" />
          <Legend layout="vertical" align="center" verticalAlign="middle"
            wrapperStyle={{ left: 97, top: 63, width: 'auto', height: 'auto' }}
            content={() => <LegendBox items={rsiLegend} rowH={29.5} fontSize={17} />} />
        </LineChart>
      </div>
      <div style={{
        position: 'absolute', left: 22, top: 1329, transform: 'translate(-50%, -50%) rotate(-90deg)',
        fontFamily: FONT, fontSize: 17, whiteSpace: 'nowrap', color: '#000',
      }}>RSI</div>
      <div style={titleStyle(1487, 19.6)}>Date</div>
    </div>
  );
}
